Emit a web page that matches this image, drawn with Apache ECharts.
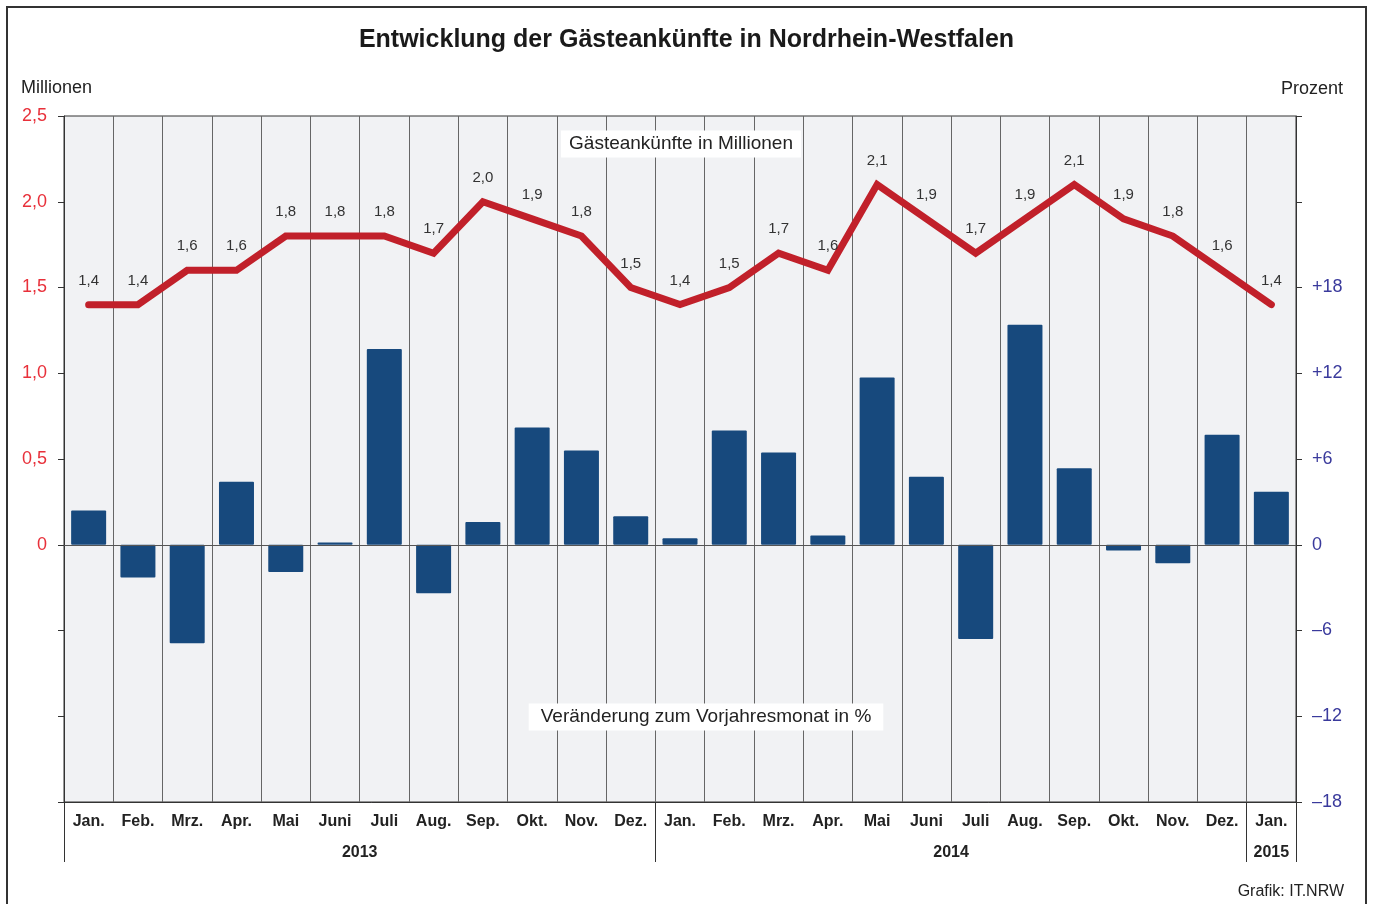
<!DOCTYPE html>
<html>
<head>
<meta charset="utf-8">
<script src="https://cdn.jsdelivr.net/npm/echarts@6/dist/echarts.min.js"></script>
<style>
html,body{margin:0;padding:0;background:#fff;}
#chart{width:1373px;height:904px;}
</style>
</head>
<body>
<div id="chart"></div>
<script>
const months = ['Jan.','Feb.','Mrz.','Apr.','Mai','Juni','Juli','Aug.','Sep.','Okt.','Nov.','Dez.',
                'Jan.','Feb.','Mrz.','Apr.','Mai','Juni','Juli','Aug.','Sep.','Okt.','Nov.','Dez.','Jan.'];
const years = ['2013','2014','2015'];
const yearCenters = [5.5, 17.5, 24];
const yearBoundaries = [0, 12, 24, 25];
const arrivals = [1.4,1.4,1.6,1.6,1.8,1.8,1.8,1.7,2.0,1.9,1.8,1.5,
                  1.4,1.5,1.7,1.6,2.1,1.9,1.7,1.9,2.1,1.9,1.8,1.6,1.4];
const change = [2.4,-2.3,-6.9,4.4,-1.9,0.15,13.7,-3.4,1.6,8.2,6.6,2.0,
                0.45,8.0,6.45,0.65,11.7,4.75,-6.6,15.4,5.35,-0.4,-1.3,7.7,3.7];
const leftTicks = {min:-1.5, max:2.5, interval:0.5};
const rightTicks = {min:-18, max:30, interval:6};

const chart = echarts.init(document.getElementById('chart'));
const FONT = 'Liberation Sans, Arial, sans-serif';
const fmtDE = v => v.toFixed(1).replace('.', ',');

chart.setOption({
  animation:false,
  backgroundColor:'#fff',
  textStyle:{fontFamily:FONT},
  title:{
    text:'Entwicklung der Gästeankünfte in Nordrhein-Westfalen',
    left:'center', top:23,
    textStyle:{fontFamily:FONT, fontWeight:'bold', fontSize:25, color:'#1a1a1a'}
  },
  grid:{left:64, right:77, top:116, bottom:102, show:true, backgroundColor:'#f1f2f4',
        borderColor:'#333', borderWidth:1},
  xAxis:[{
    type:'category', data:months, boundaryGap:true, position:'bottom',
    axisLine:{show:true, onZero:false, lineStyle:{color:'#333', width:1}},
    axisTick:{show:true, length:60, inside:false,
      interval:(i)=>yearBoundaries.indexOf(i)>=0,
      lineStyle:{color:'#333', width:1}},
    axisLabel:{interval:0, margin:12, fontFamily:FONT, fontWeight:'bold', fontSize:16, color:'#222'},
    splitLine:{show:true, interval:0, lineStyle:{color:'#666', width:1}}
  },{
    type:'value', min:-0.5, max:24.5, interval:0.5, position:'bottom', offset:35,
    axisLine:{show:false, onZero:false}, axisTick:{show:false}, splitLine:{show:false},
    axisLabel:{margin:8, fontFamily:FONT, fontWeight:'bold', fontSize:16, color:'#222',
      showMinLabel:true, showMaxLabel:true,
      formatter:(v)=>{const k=yearCenters.indexOf(v); return k>=0?years[k]:'';}}
  }],
  yAxis:[{
    type:'value', min:leftTicks.min, max:leftTicks.max, interval:leftTicks.interval, position:'left',
    axisLine:{show:true, onZero:false, lineStyle:{color:'#333'}},
    axisTick:{show:true, length:6, lineStyle:{color:'#333'}},
    splitLine:{show:false},
    axisLabel:{margin:17, fontFamily:FONT, fontSize:18, color:'#e8303a',
      formatter:(v)=> v<0 ? '' : (v===0 ? '0' : fmtDE(v))}
  },{
    type:'value', min:rightTicks.min, max:rightTicks.max, interval:rightTicks.interval, position:'right',
    axisLine:{show:true, onZero:false, lineStyle:{color:'#333'}},
    axisTick:{show:true, length:6, lineStyle:{color:'#333'}},
    splitLine:{show:false},
    axisLabel:{margin:16, fontFamily:FONT, fontSize:18, color:'#3a3a9c',
      formatter:(v)=> v>18 ? '' : (v>0 ? '+'+v : (v<0 ? '\u2013'+Math.abs(v) : '0'))}
  }],
  series:[{
    type:'bar', name:'Veränderung', data:change, xAxisIndex:0, yAxisIndex:1, barWidth:35,
    itemStyle:{color:'#17497d', borderRadius:1},
    markLine:{silent:true, symbol:'none', label:{show:false},
      lineStyle:{color:'#555', width:1, type:'solid'},
      data:[{yAxis:0}]}
  },{
    type:'line', name:'Gästeankünfte', data:arrivals, xAxisIndex:0, yAxisIndex:0,
    symbol:'circle', symbolSize:1, showSymbol:true, itemStyle:{color:'#c1202a'},
    lineStyle:{color:'#c1202a', width:7, cap:'round', join:'miter'},
    label:{show:true, position:'top', distance:16, fontFamily:FONT, fontSize:15, color:'#333',
      formatter:(p)=>fmtDE(p.value)},
    z:5
  }],
  graphic:[
    {type:'rect', shape:{x:7, y:7, width:1359, height:1000}, style:{fill:'none', stroke:'#333', lineWidth:2}, silent:true},
    {type:'text', left:21, top:79, style:{text:'Millionen', font:'18px '+FONT, fill:'#222'}},
    {type:'text', right:30, top:80, style:{text:'Prozent', font:'18px '+FONT, fill:'#222'}},
    {type:'text', right:29, top:884, style:{text:'Grafik: IT.NRW', font:'16px '+FONT, fill:'#222'}},
    {type:'text', x:681, y:144, z:10, style:{text:'Gästeankünfte in Millionen', font:'19px '+FONT, fill:'#222',
      align:'center', verticalAlign:'middle', backgroundColor:'#fff', padding:[4,8,4,8]}},
    {type:'text', x:706, y:717, z:10, style:{text:'Veränderung zum Vorjahresmonat in %', font:'19px '+FONT, fill:'#222',
      align:'center', verticalAlign:'middle', backgroundColor:'#fff', padding:[4,12,4,12]}}
  ]
});
</script>
</body>
</html>
